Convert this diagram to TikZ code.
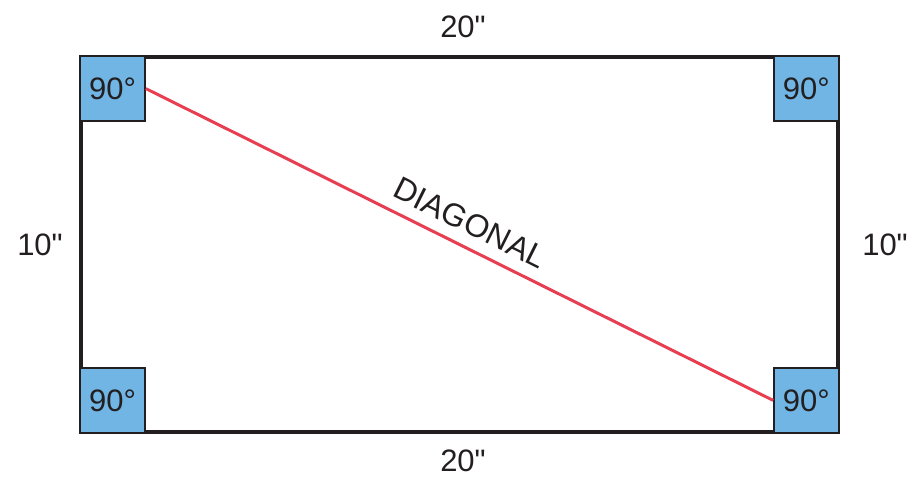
\documentclass[tikz,border=0pt]{standalone}
\usepackage{fontspec}
\setmainfont{Liberation Sans}[Ligatures=TeXOff]
\definecolor{frameblack}{RGB}{35,31,32}
\definecolor{cornerblue}{RGB}{112,181,228}
\definecolor{diagred}{RGB}{232,62,82}
\begin{document}
\begin{tikzpicture}[x=1pt,y=-1pt,
  lbl/.style={font=\fontsize{31}{31}\selectfont, text=frameblack, inner sep=0pt},
  corner/.style={draw=frameblack, line width=1.5pt, fill=cornerblue, minimum size=65pt, inner sep=0pt, font=\fontsize{31}{31}\selectfont, text=frameblack},
  frame/.style={draw=frameblack, line width=3.2pt, minimum width=757pt, minimum height=375pt, inner sep=0pt}]
\useasboundingbox (0,0) rectangle (915,478);
\node[frame] (fr) at (459.5,244.5) {};
\node[corner, anchor=north west] (tl) at (fr.north west) {90°};
\node[corner, anchor=north east] (tr) at (fr.north east) {90°};
\node[corner, anchor=south west] (bl) at (fr.south west) {90°};
\node[corner, anchor=south east] (br) at (fr.south east) {90°};
\draw[diagred, line width=3pt] (tl.east) -- (br.west);
\node[lbl, font=\fontsize{32}{32}\selectfont, rotate=-26.5] (dg) at (470,223) {DIAGONAL};
\node[lbl] (top) at (463,27) {20"};
\node[lbl] (bot) at (463,461) {20"};
\node[lbl] (lft) at (40,245) {10"};
\node[lbl] (rgt) at (885,245) {10"};
\end{tikzpicture}
\end{document}
